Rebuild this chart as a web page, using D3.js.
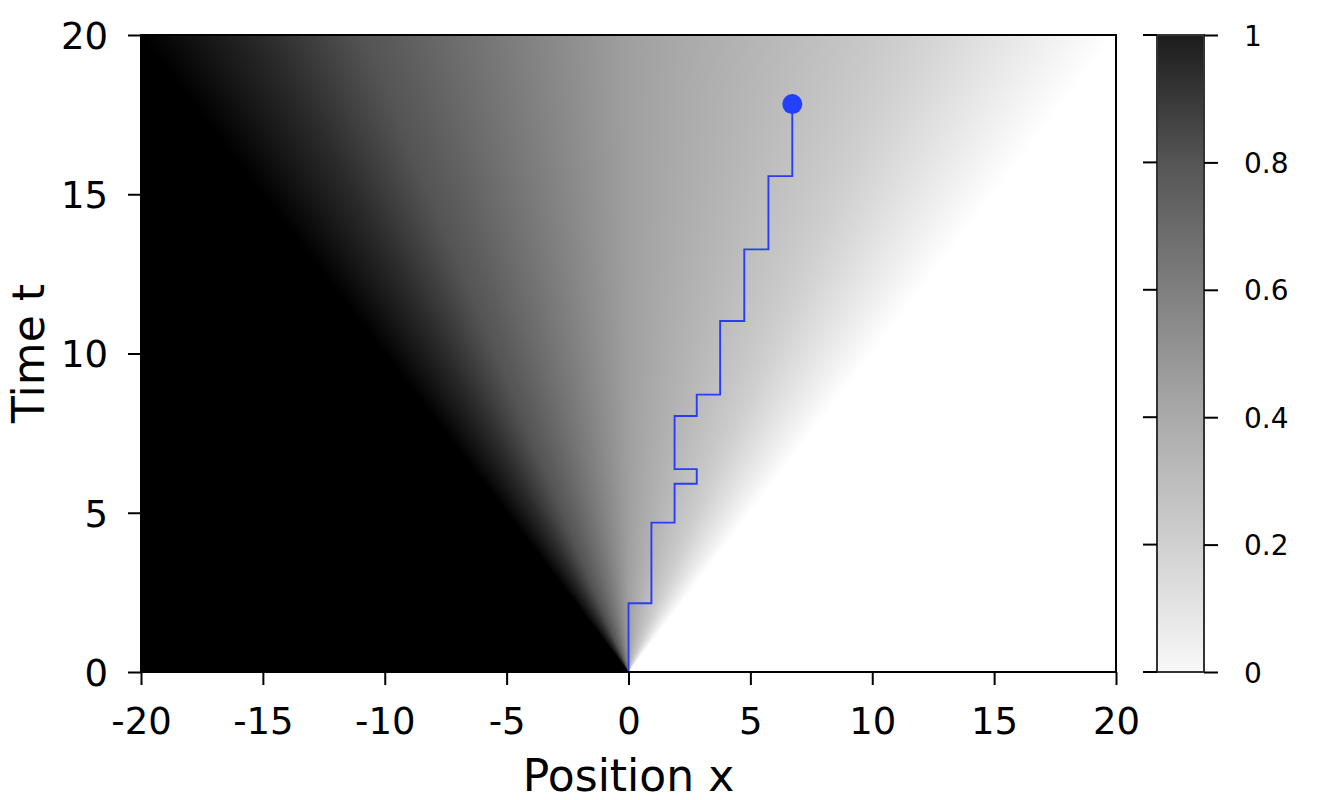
<!DOCTYPE html>
<html>
<head>
<meta charset="utf-8">
<script src="https://cdn.jsdelivr.net/npm/d3@7"></script>
<style>
  body { margin: 0; background: #fff; }
  text { font-family: "DejaVu Sans", sans-serif; fill: #000; }
</style>
</head>
<body>
<svg id="chart" width="1333" height="800"></svg>
<script>
// tick labels
var xTicks = [-20, -15, -10, -5, 0, 5, 10, 15, 20];
var tTicks = [0, 5, 10, 15, 20];
var cbTicks = [0, 0.2, 0.4, 0.6, 0.8, 1];
var cbTickLabels = ["0", "0.2", "0.4", "0.6", "0.8", "1"];

// colour map (value -> grey level)
var cbValues = [0, 0.2, 0.4, 0.6, 0.8, 1];
var cbGreys = [255, 208, 170, 127, 85, 0];

var profileXi = [-1, -0.75, -0.5, 0, 0.5, 0.75, 1];
var profileVal = [1, 0.9, 0.78, 0.45, 0.24, 0.12, 0];

// walker path: position held over [segStart, segEnd]
var walkPos = [0, 0.94, 1.89, 2.8, 1.89, 2.8, 3.76, 4.75, 5.74, 6.72];
var segStart = [0, 2.16, 4.69, 5.91, 6.37, 8.04, 8.71, 11.02, 13.27, 15.57];
var segEnd = [2.16, 4.69, 5.91, 6.37, 8.04, 8.71, 11.02, 13.27, 15.57, 17.83];

var svg = d3.select("#chart");
var pLeft = 141, pRight = 1116, pTop = 35, pBottom = 672;

var x = d3.scaleLinear().domain([-20, 20]).range([pLeft, pRight]);
var y = d3.scaleLinear().domain([0, 20]).range([pBottom, pTop]);
var grey = d3.scaleLinear().domain(cbValues).range(cbGreys).clamp(true);
var profile = d3.scaleLinear().domain(profileXi).range(profileVal).clamp(true);

// heat map drawn into a canvas, then placed as an image
var w = pRight - pLeft, h = pBottom - pTop;
var canvas = document.createElement("canvas");
canvas.width = w; canvas.height = h;
var ctx = canvas.getContext("2d");
var img = ctx.createImageData(w, h);
for (var j = 0; j < h; j++) {
  var tv = y.invert(pTop + j + 0.5);
  for (var i = 0; i < w; i++) {
    var xv = x.invert(pLeft + i + 0.5);
    var v;
    if (tv <= 0) v = xv < 0 ? 1 : 0;
    else v = profile(xv / tv);
    var g = Math.round(grey(v));
    var k = (j * w + i) * 4;
    img.data[k] = g; img.data[k + 1] = g; img.data[k + 2] = g; img.data[k + 3] = 255;
  }
}
ctx.putImageData(img, 0, 0);

svg.append("image")
  .attr("x", pLeft).attr("y", pTop)
  .attr("width", w).attr("height", h)
  .attr("href", canvas.toDataURL());

// walker path
var pts = [];
walkPos.forEach(function(p, i) {
  pts.push([p, segStart[i]]);
  pts.push([p, segEnd[i]]);
});
var line = d3.line().x(function(d) { return x(d[0]); }).y(function(d) { return y(d[1]); });
svg.append("path")
  .attr("d", line(pts))
  .attr("fill", "none")
  .attr("stroke", "#2a3cf5")
  .attr("stroke-width", 1.9);

svg.append("circle")
  .attr("cx", x(walkPos[walkPos.length - 1]))
  .attr("cy", y(segEnd[segEnd.length - 1]))
  .attr("r", 10)
  .attr("fill", "#2340ff");

// frame
svg.append("rect")
  .attr("x", pLeft).attr("y", pTop)
  .attr("width", w).attr("height", h)
  .attr("fill", "none").attr("stroke", "#000").attr("stroke-width", 2);

// axes (plain hyphen for negatives, as in the original)
var xAxis = svg.append("g")
  .attr("transform", "translate(0," + pBottom + ")")
  .call(d3.axisBottom(x).tickValues(xTicks).tickSize(13).tickPadding(22).tickFormat(function(d) { return String(d); }));
var yAxis = svg.append("g")
  .attr("transform", "translate(" + pLeft + ",0)")
  .call(d3.axisLeft(y).tickValues(tTicks).tickSize(13).tickPadding(20).tickFormat(function(d) { return String(d); }));
[xAxis, yAxis].forEach(function(a) {
  a.select(".domain").remove();
  a.selectAll(".tick line").attr("stroke", "#000").attr("stroke-width", 2);
  a.selectAll(".tick text").style("font-size", "37px").attr("fill", "#000");
});
xAxis.selectAll(".tick text").attr("dy", "0.72em");
yAxis.selectAll(".tick text").attr("dy", "0.36em");

svg.append("text")
  .attr("x", x(0)).attr("y", 791)
  .attr("text-anchor", "middle")
  .style("font-size", "44px")
  .text("Position x");

svg.append("text")
  .attr("transform", "translate(44," + ((pTop + pBottom) / 2) + ") rotate(-90)")
  .attr("text-anchor", "middle")
  .style("font-size", "44px")
  .text("Time t");

// colour bar
var cbLeft = 1157, cbRight = 1204;
var cbY = d3.scaleLinear().domain([0, 1]).range([pBottom, pTop]);
var cbShade = [248, 208, 170, 127, 85, 28];
var grad = svg.append("defs").append("linearGradient")
  .attr("id", "cbgrad")
  .attr("x1", 0).attr("y1", 1).attr("x2", 0).attr("y2", 0);
cbValues.forEach(function(v, i) {
  grad.append("stop")
    .attr("offset", v)
    .attr("stop-color", d3.rgb(cbShade[i], cbShade[i], cbShade[i]) + "");
});
svg.append("rect")
  .attr("x", cbLeft).attr("y", pTop)
  .attr("width", cbRight - cbLeft).attr("height", h)
  .attr("fill", "url(#cbgrad)")
  .attr("stroke", "#333").attr("stroke-width", 2);

var cbAxis = svg.append("g")
  .attr("transform", "translate(" + cbRight + ",0)")
  .call(d3.axisRight(cbY).tickValues(cbTicks).tickSize(14).tickPadding(26)
    .tickFormat(function(d, i) { return cbTickLabels[i]; }));
cbAxis.select(".domain").remove();
cbAxis.selectAll(".tick line").attr("stroke", "#000").attr("stroke-width", 2);
cbAxis.selectAll(".tick text").style("font-size", "28px").attr("fill", "#000").attr("dy", "0.36em");

// inner ticks on the left side of the colour bar
svg.append("g").selectAll("line")
  .data(cbTicks)
  .enter().append("line")
  .attr("x1", cbLeft - 14).attr("x2", cbLeft)
  .attr("y1", function(d) { return cbY(d); })
  .attr("y2", function(d) { return cbY(d); })
  .attr("stroke", "#000").attr("stroke-width", 2);
</script>
</body>
</html>
